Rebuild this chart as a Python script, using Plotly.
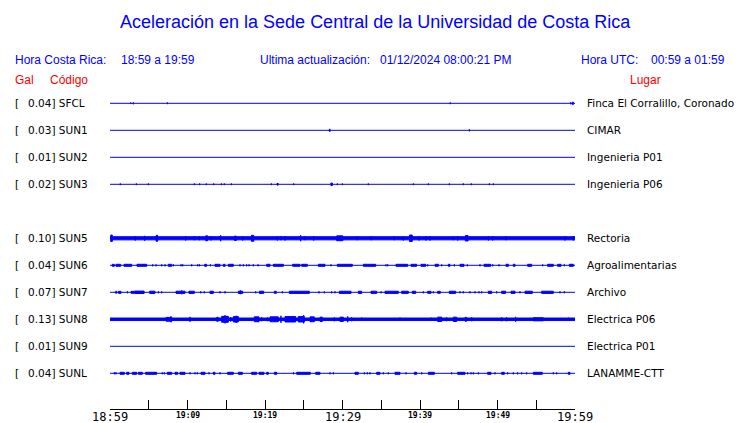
import plotly.graph_objects as go

# ---------------- data ----------------
title_text = "Aceleración en la Sede Central de la Universidad de Costa Rica"
hora_cr_label = "Hora Costa Rica:"
hora_cr_range = "18:59 a 19:59"
update_label = "Ultima actualización:"
update_value = "01/12/2024 08:00:21 PM"
utc_label = "Hora UTC:"
utc_range = "00:59 a 01:59"

codes = ["SFCL", "SUN1", "SUN2", "SUN3", "SUN5", "SUN6", "SUN7", "SUN8", "SUN9", "SUNL"]
gal = [0.04, 0.03, 0.01, 0.02, 0.10, 0.04, 0.07, 0.13, 0.01, 0.04]
places = ["Finca El Corralillo, Coronado", "CIMAR", "Ingenieria P01", "Ingenieria P06",
          "Rectoria", "Agroalimentarias", "Archivo", "Electrica P06", "Electrica P01",
          "LANAMME-CTT"]
rows = [0, 1, 2, 3, 5, 6, 7, 8, 9, 10]

# time in minutes after 18:59
tick_minutes = [0, 10, 20, 30, 40, 50, 60]
tick_labels = ["18:59", "19:09", "19:19", "19:29", "19:39", "19:49", "19:59"]
major_ticks = ["18:59", "19:29", "19:59"]

# background noise half-width per station (in trace-spacing units)
noise = [0, 0, 0, 0, 0.058, 0, 0, 0.047, 0, 0]

# bursts per station: (start minute, end minute, half amplitude in trace-spacing units)
bursts_sfcl = [(2.67, 2.67, 0.025), (3.01, 3.01, 0.035), (7.40, 7.40, 0.03), (43.90, 43.90, 0.03),
               (59.44, 59.44, 0.035), (59.65, 59.80, 0.04)]
bursts_sun1 = [(28.30, 28.40, 0.04), (46.37, 46.37, 0.035)]
bursts_sun2 = []
bursts_sun3 = [(1.33, 1.33, 0.03), (3.40, 3.40, 0.03), (4.95, 4.95, 0.03), (10.88, 10.88, 0.03),
               (11.57, 11.57, 0.03), (12.43, 12.43, 0.03), (13.38, 13.38, 0.03), (14.37, 14.37, 0.03),
               (14.75, 14.75, 0.03), (15.66, 15.66, 0.03), (20.82, 20.82, 0.03), (21.55, 21.70, 0.03),
               (23.70, 23.70, 0.03), (28.50, 28.70, 0.045), (29.33, 29.33, 0.03), (29.98, 29.98, 0.03),
               (33.33, 33.33, 0.03), (39.14, 39.14, 0.03), (41.08, 41.08, 0.03), (43.78, 43.78, 0.03),
               (45.59, 45.59, 0.03), (46.62, 46.62, 0.03), (48.95, 48.95, 0.03), (49.46, 49.46, 0.03)]
bursts_sun5 = [(0.10, 0.30, 0.12), (3.27, 3.27, 0.08), (4.47, 4.47, 0.09), (5.95, 6.15, 0.11),
               (9.76, 9.76, 0.08), (10.88, 10.88, 0.07), (11.53, 11.53, 0.07), (12.35, 12.60, 0.09),
               (13.03, 13.03, 0.08), (14.28, 14.28, 0.11), (16.05, 16.30, 0.08), (17.12, 17.12, 0.08),
               (18.25, 18.55, 0.11), (21.59, 21.59, 0.08), (22.06, 22.06, 0.07), (22.58, 22.58, 0.08),
               (24.60, 24.60, 0.11), (25.16, 25.16, 0.07), (26.28, 26.28, 0.08), (29.25, 30.05, 0.09),
               (31.91, 31.91, 0.07), (33.72, 33.72, 0.07), (36.69, 36.69, 0.07), (37.85, 37.85, 0.08),
               (38.65, 39.00, 0.12), (39.87, 39.87, 0.08), (40.77, 40.77, 0.08), (41.29, 41.29, 0.08),
               (44.30, 44.30, 0.07), (44.86, 44.86, 0.08), (45.85, 46.20, 0.10), (48.82, 48.82, 0.08),
               (49.38, 49.38, 0.08), (51.10, 51.10, 0.07), (58.71, 58.71, 0.08), (59.78, 59.78, 0.08)]
bursts_sun6 = [(0.30, 0.56, 0.037), (0.77, 1.38, 0.037), (1.81, 2.80, 0.037), (3.48, 4.73, 0.037),
               (5.51, 5.51, 0.035), (5.94, 5.94, 0.035), (6.67, 6.67, 0.035), (7.10, 7.10, 0.035),
               (7.53, 7.96, 0.037), (8.17, 8.17, 0.035), (9.16, 9.16, 0.035), (9.38, 9.38, 0.035),
               (10.54, 10.54, 0.035), (11.31, 11.31, 0.035), (11.53, 11.53, 0.035), (12.22, 12.47, 0.037),
               (12.95, 12.95, 0.035), (13.55, 14.19, 0.037), (14.62, 14.84, 0.037), (15.27, 15.91, 0.037),
               (16.77, 16.77, 0.035), (17.20, 17.20, 0.035), (17.63, 17.63, 0.035), (17.94, 17.94, 0.035),
               (18.49, 18.49, 0.035), (19.10, 19.10, 0.035), (20.22, 20.65, 0.037), (21.08, 22.37, 0.037),
               (23.57, 24.52, 0.037), (24.73, 25.46, 0.037), (26.88, 27.74, 0.037), (28.52, 28.52, 0.035),
               (29.33, 31.27, 0.037), (32.69, 34.28, 0.037), (35.61, 35.61, 0.035), (35.83, 35.83, 0.035),
               (36.90, 38.41, 0.037), (38.84, 39.57, 0.037), (40.13, 40.73, 0.037), (40.99, 40.99, 0.035),
               (41.94, 42.37, 0.037), (42.80, 42.80, 0.035), (43.66, 43.87, 0.037), (44.43, 44.43, 0.035),
               (45.16, 45.68, 0.037), (46.11, 46.11, 0.035), (47.74, 47.74, 0.035), (48.26, 49.12, 0.037),
               (49.38, 49.38, 0.035), (50.19, 50.19, 0.035), (51.10, 51.40, 0.037), (52.04, 52.26, 0.037),
               (53.89, 54.41, 0.037), (55.83, 55.83, 0.035), (56.47, 57.20, 0.037), (57.76, 58.19, 0.037),
               (58.62, 58.62, 0.035), (59.27, 59.78, 0.037)]
bursts_sun7 = [(0.73, 0.86, 0.035), (1.08, 1.42, 0.037), (2.24, 2.24, 0.035), (2.71, 3.10, 0.035),
               (3.15, 4.40, 0.045), (5.12, 5.81, 0.04), (6.24, 6.24, 0.035), (6.67, 6.67, 0.035),
               (8.52, 9.68, 0.04), (9.25, 9.25, 0.07), (10.19, 10.88, 0.04), (11.70, 11.70, 0.035),
               (12.17, 12.17, 0.035), (12.90, 13.33, 0.04), (14.19, 14.19, 0.035), (14.84, 14.84, 0.035),
               (16.56, 17.12, 0.04), (16.82, 16.82, 0.07), (18.80, 18.80, 0.035), (19.27, 19.83, 0.04),
               (21.20, 21.46, 0.037), (22.24, 22.24, 0.035), (23.14, 25.72, 0.04), (26.97, 26.97, 0.035),
               (27.66, 27.66, 0.035), (28.60, 28.60, 0.035), (29.03, 29.03, 0.035), (29.59, 31.10, 0.04),
               (32.04, 32.47, 0.04), (33.68, 34.41, 0.04), (34.97, 34.97, 0.035), (35.48, 37.20, 0.04),
               (37.63, 38.49, 0.04), (39.01, 39.44, 0.04), (40.43, 40.43, 0.035), (40.99, 41.42, 0.037),
               (41.72, 41.72, 0.035), (42.28, 42.62, 0.037), (43.78, 44.60, 0.04), (45.16, 45.16, 0.035),
               (45.59, 45.59, 0.035), (46.45, 46.45, 0.035), (47.10, 47.10, 0.035), (47.61, 47.61, 0.035),
               (47.96, 47.96, 0.035), (48.82, 49.25, 0.04), (49.89, 49.89, 0.035), (50.54, 51.05, 0.04),
               (51.74, 52.26, 0.04), (52.90, 52.90, 0.035), (53.55, 54.49, 0.04), (55.70, 57.20, 0.04),
               (58.06, 58.06, 0.035), (58.62, 58.62, 0.035)]
bursts_sun8 = [(7.23, 7.96, 0.07), (7.87, 7.87, 0.11), (10.32, 10.32, 0.09), (13.76, 13.98, 0.07),
               (14.41, 15.27, 0.11), (14.84, 14.84, 0.15), (15.57, 15.57, 0.08), (15.91, 16.56, 0.10),
               (16.30, 16.30, 0.13), (18.62, 19.23, 0.09), (19.57, 19.57, 0.07), (20.34, 20.34, 0.07),
               (20.65, 21.72, 0.09), (22.06, 22.06, 0.13), (22.58, 23.96, 0.10), (24.30, 25.08, 0.10),
               (24.99, 24.99, 0.15), (25.81, 26.37, 0.09), (27.10, 27.40, 0.08), (28.95, 28.95, 0.07),
               (29.68, 30.11, 0.08), (30.67, 30.67, 0.11), (31.18, 31.18, 0.07), (32.47, 32.47, 0.06),
               (37.42, 37.42, 0.06), (41.42, 41.42, 0.06), (42.28, 42.80, 0.08), (43.44, 43.44, 0.07),
               (44.30, 44.73, 0.08), (45.81, 46.02, 0.07), (46.67, 46.67, 0.07), (50.54, 50.54, 0.07),
               (51.18, 51.18, 0.07), (52.34, 52.34, 0.09), (54.62, 55.91, 0.055), (59.14, 59.14, 0.06)]
bursts_sun9 = []
bursts_sunl = [(0.56, 0.56, 0.035), (0.77, 0.77, 0.035), (1.29, 1.85, 0.037), (2.15, 2.45, 0.037),
               (2.88, 3.44, 0.037), (3.66, 4.17, 0.037), (4.60, 6.02, 0.037), (6.75, 6.75, 0.035),
               (7.01, 7.01, 0.035), (7.40, 7.96, 0.037), (8.39, 8.73, 0.037), (9.03, 9.68, 0.037),
               (10.32, 10.32, 0.035), (10.97, 10.97, 0.035), (11.27, 11.27, 0.035), (11.74, 12.26, 0.037),
               (12.77, 12.77, 0.035), (13.33, 13.55, 0.037), (14.19, 14.19, 0.035), (15.18, 15.91, 0.037),
               (16.56, 17.08, 0.037), (18.28, 18.92, 0.037), (19.23, 19.87, 0.037), (20.22, 20.43, 0.037),
               (21.20, 21.51, 0.037), (23.66, 23.66, 0.035), (24.09, 25.85, 0.037), (26.54, 27.10, 0.037),
               (28.39, 28.39, 0.035), (28.82, 28.82, 0.035), (31.61, 32.04, 0.037), (32.82, 32.82, 0.035),
               (33.20, 33.20, 0.035), (33.55, 33.55, 0.035), (34.41, 34.84, 0.037), (35.27, 35.27, 0.035),
               (35.91, 35.91, 0.035), (36.77, 37.42, 0.037), (38.19, 38.19, 0.035), (39.27, 39.57, 0.037),
               (40.22, 40.22, 0.035), (41.08, 41.85, 0.037), (44.09, 44.09, 0.035), (44.86, 45.81, 0.037),
               (46.15, 46.15, 0.035), (46.58, 46.58, 0.035), (46.88, 46.88, 0.035), (47.53, 47.53, 0.035),
               (48.73, 49.16, 0.037), (49.68, 49.68, 0.035), (50.54, 50.88, 0.037), (51.31, 51.31, 0.035),
               (52.04, 52.04, 0.035), (52.60, 52.60, 0.035), (53.12, 53.12, 0.035), (53.76, 53.76, 0.035),
               (54.62, 55.78, 0.037), (57.20, 57.20, 0.035), (57.63, 57.63, 0.035), (59.14, 59.35, 0.037)]

bursts = [bursts_sfcl, bursts_sun1, bursts_sun2, bursts_sun3, bursts_sun5,
          bursts_sun6, bursts_sun7, bursts_sun8, bursts_sun9, bursts_sunl]

# ---------------- layout helpers ----------------
W, H = 740, 423
PL, PR, PT, PB = 110, 575, 90, 409        # plot area in pixels
ROW0_PX, ROW_PX = 103.3, 27.0
T_END = 60

def xp(px):
    return (px - PL) / (PR - PL)

def yp(py):
    return (PB - py) / (PB - PT)

BLUE = "#0000ff"
fig = go.Figure()

for i, code in enumerate(codes):
    r = rows[i]
    xs, ys = [0, T_END, None], [r, r, None]
    n = noise[i]
    if n > 0:
        xs += [0, T_END, T_END, 0, 0, None]
        ys += [r - n, r - n, r + n, r + n, r - n, None]
    for (t0, t1, a) in bursts[i]:
        xs += [t0, t1, t1, t0, t0, None]
        ys += [r - a, r - a, r + a, r + a, r - a, None]
    fig.add_trace(go.Scatter(x=xs, y=ys, mode="lines", fill="toself", fillcolor=BLUE,
                             line=dict(color=BLUE, width=1), hoverinfo="skip",
                             showlegend=False, name=code))

ann = []
hdr_font = dict(family="Liberation Sans, Arial", size=12, color=BLUE)
red_font = dict(family="Liberation Sans, Arial", size=12, color="#ff0000")
lab_font = dict(family="DejaVu Sans", size=10.5, color="black")

def note(text, x, y, font, xref="paper", yref="paper", xanchor="left"):
    ann.append(dict(text=text, x=x, y=y, xref=xref, yref=yref, xanchor=xanchor,
                    yanchor="middle", showarrow=False, font=font, borderpad=0, borderwidth=0))

note(title_text, xp(375), yp(22), dict(family="Liberation Sans, Arial", size=18, color=BLUE),
     xanchor="center")
note(hora_cr_label, xp(15), yp(60), hdr_font)
note(hora_cr_range, xp(121), yp(60), hdr_font)
note(update_label, xp(260), yp(60), hdr_font)
note(update_value, xp(380), yp(60), hdr_font)
note(utc_label, xp(581), yp(60), hdr_font)
note(utc_range, xp(651), yp(60), hdr_font)
note("Gal", xp(15), yp(80), red_font)
note("Código", xp(50), yp(80), red_font)
note("Lugar", xp(630), yp(80), red_font)

for i, code in enumerate(codes):
    r = rows[i]
    note("[", xp(15), r, lab_font, yref="y")
    note(f"{gal[i]:.2f}] {code}", xp(28), r, lab_font, yref="y")
    note(places[i], xp(587), r, lab_font, yref="y")

for t, lab in zip(tick_minutes, tick_labels):
    if lab in major_ticks:
        note(lab, t, yp(416.5), dict(family="DejaVu Sans Mono", size=12, color="black"),
             xref="x", xanchor="center")
    else:
        note("<b>" + lab + "</b>", t, yp(415.7),
             dict(family="DejaVu Sans Mono", size=8, color="black"), xref="x", xanchor="center")

y_top = -(ROW0_PX - PT) / ROW_PX
y_bot = (PB - ROW0_PX) / ROW_PX

fig.update_layout(
    width=W, height=H,
    margin=dict(l=PL, r=W - PR, t=PT, b=H - PB, pad=0),
    paper_bgcolor="white", plot_bgcolor="white",
    annotations=ann,
    xaxis=dict(range=[0, T_END], showgrid=False, zeroline=False, showline=True,
               linecolor="black", linewidth=1, ticks="inside", ticklen=9, tickwidth=1,
               tickcolor="black", tickmode="linear", tick0=0, dtick=5,
               showticklabels=False, fixedrange=True),
    yaxis=dict(range=[y_bot, y_top], showgrid=False, zeroline=False, showline=False,
               showticklabels=False, ticks="", fixedrange=True),
)

fig.write_html("out.html", config={"displayModeBar": False},
               post_script="document.body.style.margin='0';document.body.style.padding='0';")
